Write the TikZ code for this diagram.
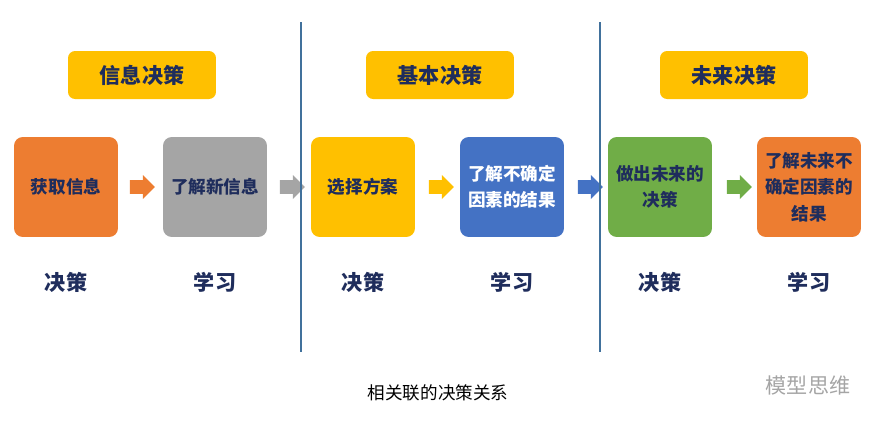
\documentclass[tikz,border=0pt]{standalone}
\usepackage{fontspec}
\setmainfont{Noto Sans CJK SC}
\usetikzlibrary{shapes.arrows}
\usetikzlibrary{positioning}
\definecolor{ink}{HTML}{1F2D5C}
\definecolor{gold}{HTML}{FFC000}
\definecolor{tangerine}{HTML}{ED7D31}
\definecolor{slate}{HTML}{A5A5A5}
\definecolor{azure}{HTML}{4472C4}
\definecolor{leaf}{HTML}{70AD47}
\definecolor{rule}{HTML}{41719C}
\tikzset{
  header/.style={fill=gold,rounded corners=4pt,minimum width=2.96cm,minimum height=0.96cm,
    font=\bfseries\large,text=ink},
  stage/.style={rounded corners=5pt,minimum width=2.08cm,minimum height=2cm,
    font=\bfseries,text=ink,align=center},
  tag/.style={font=\bfseries\large,text=ink},
  pointer/.style={single arrow,minimum height=0.5cm,minimum width=0.48cm,
    single arrow head extend=0.1cm,inner sep=3.5pt}
}
\newcommand\stagebox[5]{
  \node[stage,fill=#3] (#1) at (#2,187) {#4};
  \node[tag] (#1tag) at (#2,282) {#5};
}
\begin{document}
\begin{tikzpicture}[x=0.02cm,y=-0.02cm]
  \useasboundingbox (0,0) rectangle (876,427);
  %
  \node[header] (h1) at (142,75) {信息决策};
  \node[header] (h2) at (440,75) {基本决策};
  \node[header] (h3) at (734,75) {未来决策};

  \stagebox{get}{66}{tangerine}{获取信息}{决策}
  \stagebox{learn}{215}{slate}{了解新信息}{学习}
  \stagebox{pick}{363}{gold}{选择方案}{决策}
  \stagebox{know}{512}{azure}{\textcolor{white}{了解不确定}\\[3pt]\textcolor{white}{因素的结果}}{学习}
  \stagebox{act}{660}{leaf}{做出未来的\\[3pt]决策}{决策}
  \stagebox{see}{809}{tangerine}{了解未来不\\[3pt]确定因素的\\[3pt]结果}{学习}

  \node[pointer,fill=tangerine] (a1) at (139,187) {};
  \node[pointer,fill=slate] (a2) at (289,187) {};
  \node[pointer,fill=gold] (a3) at (438,187) {};
  \node[pointer,fill=azure] (a4) at (587,187) {};
  \node[pointer,fill=leaf] (a5) at (736,187) {};

  \foreach \x in {301,600} {
    \draw[rule,line width=1.2pt] (\x,22) -- (\x,352);
  }

  \node (caption) at (438,393) {相关联的决策关系};
  \node[text=slate,font=\large] (mark) at (808,385) {模型思维};
\end{tikzpicture}
\end{document}
